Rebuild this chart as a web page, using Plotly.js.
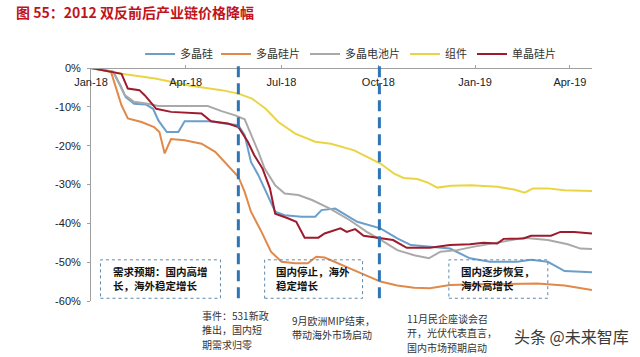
<!DOCTYPE html>
<html><head><meta charset="utf-8">
<script src="https://cdn.plot.ly/plotly-3.0.1.min.js"></script>
<style>html,body{margin:0;padding:0;background:#fff}#chart{width:640px;height:357px}</style>
</head><body><div id="chart"></div>
<script>
// ---- data (values in %) ----
const seriesNames = ['多晶硅', '多晶硅片', '多晶电池片', '组件', '单晶硅片'];
const seriesColors = ['#6b9fcb', '#e0894a', '#a9a9a9', '#e9d544', '#9e1b2e'];

const polySiDates = ['2018-01-01','2018-01-22','2018-01-29','2018-02-03','2018-02-11','2018-02-22','2018-03-01','2018-03-06','2018-03-14','2018-03-25','2018-03-31','2018-04-25','2018-05-08','2018-05-21','2018-05-27','2018-06-02','2018-06-09','2018-06-18','2018-06-25','2018-07-04','2018-07-20','2018-08-02','2018-08-08','2018-08-21','2018-08-29','2018-09-11','2018-10-03','2018-10-19','2018-11-01','2018-11-16','2018-12-08','2018-12-27','2019-01-15','2019-02-10','2019-02-23','2019-03-11','2019-03-27','2019-04-22'];
const polySiValues = [0,-1.0,-4.5,-7.5,-9.2,-9.4,-10.5,-13.5,-16.5,-16.5,-13.7,-13.7,-14.3,-14.7,-17.3,-24.2,-27.6,-32.7,-37.0,-37.9,-38.3,-38.3,-36.6,-36.2,-37.5,-39.6,-41.3,-43.9,-45.6,-46.0,-46.5,-49.0,-49.9,-49.9,-49.4,-49.9,-52.3,-52.6];

const polyWaferDates = ['2018-01-01','2018-01-20','2018-01-25','2018-01-30','2018-02-05','2018-02-18','2018-03-02','2018-03-07','2018-03-12','2018-03-18','2018-03-31','2018-04-16','2018-04-29','2018-05-11','2018-05-21','2018-05-27','2018-06-02','2018-06-12','2018-06-21','2018-07-01','2018-07-14','2018-07-26','2018-08-03','2018-08-11','2018-08-21','2018-09-04','2018-09-17','2018-10-03','2018-10-19','2018-11-04','2018-11-19','2018-12-08','2019-01-06','2019-02-07','2019-03-01','2019-03-27','2019-04-22'];
const polyWaferValues = [0,-1.0,-5.3,-9.6,-13.0,-13.9,-15.2,-16.5,-22.0,-18.3,-18.6,-19.5,-21.6,-25.0,-28.0,-31.9,-37.0,-42.2,-47.3,-49.9,-50.3,-50.3,-48.6,-48.8,-50.0,-51.6,-53.1,-55.0,-56.0,-56.6,-56.7,-55.9,-55.7,-55.5,-55.5,-56.0,-57.2];

const polyCellDates = ['2018-01-01','2018-01-22','2018-01-27','2018-02-02','2018-02-11','2018-02-24','2018-03-06','2018-04-22','2018-05-05','2018-05-18','2018-05-27','2018-06-02','2018-06-09','2018-06-15','2018-06-25','2018-07-04','2018-07-17','2018-07-30','2018-08-11','2018-08-16','2018-09-04','2018-09-20','2018-10-03','2018-10-19','2018-11-04','2018-11-18','2018-11-29','2018-12-15','2018-12-31','2019-01-15','2019-01-28','2019-02-16','2019-03-11','2019-03-30','2019-04-11','2019-04-22'];
const polyCellValues = [0,-0.9,-3.6,-7.0,-8.7,-9.2,-9.8,-9.8,-11.1,-12.2,-13.2,-16.9,-21.6,-25.9,-30.2,-32.3,-32.7,-34.0,-35.7,-36.2,-39.2,-42.2,-44.2,-46.9,-48.2,-49.0,-47.3,-46.9,-46.0,-45.2,-44.7,-43.7,-44.3,-45.4,-46.5,-46.6];

const moduleDates = ['2018-01-01','2018-01-30','2018-03-03','2018-04-04','2018-05-05','2018-05-21','2018-06-03','2018-06-16','2018-06-28','2018-07-14','2018-08-02','2018-08-17','2018-09-08','2018-09-21','2018-10-03','2018-10-16','2018-10-25','2018-11-07','2018-11-17','2018-11-26','2018-12-09','2018-12-28','2019-01-22','2019-02-07','2019-02-17','2019-02-25','2019-03-11','2019-03-27','2019-04-22'];
const moduleValues = [0,-1.5,-2.7,-4.5,-5.7,-6.6,-7.9,-10.5,-13.9,-16.9,-19.0,-19.5,-21.2,-22.9,-24.6,-27.2,-28.3,-28.6,-29.5,-30.8,-30.3,-30.2,-30.6,-31.3,-32.1,-31.0,-31.0,-31.5,-31.7];

const monoWaferDates = ['2018-01-01','2018-01-30','2018-02-05','2018-02-16','2018-02-21','2018-03-04','2018-03-18','2018-04-16','2018-04-25','2018-05-11','2018-05-21','2018-05-30','2018-06-05','2018-06-13','2018-06-20','2018-06-25','2018-07-07','2018-07-15','2018-07-23','2018-08-05','2018-08-11','2018-08-26','2018-09-01','2018-09-09','2018-09-17','2018-10-06','2018-10-15','2018-10-28','2018-11-19','2018-12-08','2018-12-27','2019-01-09','2019-01-22','2019-01-28','2019-02-16','2019-02-23','2019-03-14','2019-03-23','2019-04-05','2019-04-22'];
const monoWaferValues = [0,-1.5,-5.3,-5.7,-7.0,-10.5,-11.3,-11.7,-13.7,-14.3,-15.2,-19.0,-22.4,-25.9,-31.0,-37.5,-38.7,-39.6,-43.7,-43.7,-42.6,-41.3,-42.2,-41.5,-43.2,-43.9,-44.3,-46.3,-46.3,-45.6,-45.4,-45.0,-45.2,-44.0,-43.9,-43.2,-43.2,-42.2,-42.2,-42.6];

const tickDates = ['2018-01-01','2018-04-01','2018-07-01','2018-10-01','2019-01-01','2019-04-01'];
const tickLabels = ['Jan-18','Apr-18','Jul-18','Oct-18','Jan-19','Apr-19'];
const yTickValues = [0,-10,-20,-30,-40,-50,-60];
const yTickLabels = ['0%','-10%','-20%','-30%','-40%','-50%','-60%'];

const eventDates = ['2018-05-21','2018-10-02'];
const titleText = '图 55：2012 双反前后产业链价格降幅';
const phaseTexts = ['需求预期：国内高增<br>长，海外稳定增长', '国内停止，海外<br>稳定增长', '国内逐步恢复，<br>海外高增长'];
const eventLines = [
  ['事件：531新政', '推出，国内短', '期需求归零'],
  ['9月欧洲MIP结束，', '带动海外市场启动'],
  ['11月民企座谈会召', '开，光伏代表直言，', '国内市场预期启动']
];
const watermark = '头条 @未来智库';

// ---- traces ----
const xs = [polySiDates, polyWaferDates, polyCellDates, moduleDates, monoWaferDates];
const ys = [polySiValues, polyWaferValues, polyCellValues, moduleValues, monoWaferValues];
const traces = seriesNames.map((n, i) => ({
  type: 'scatter', mode: 'lines', name: n, x: xs[i], y: ys[i],
  legend: i === 0 ? 'legend2' : 'legend',
  line: {color: seriesColors[i], width: 2}
}));

const cjk = '"Noto Sans CJK SC", "Noto Sans", sans-serif';
const boxFont = {family: cjk, size: 10.5, color: '#111', weight: 700};

// pixel helpers for layout positions (plot area: x 91..592, y 68..301)
const px = v => (v - 91) / 501;
const py = v => (301 - v) / 233;

const shapes = [];
const annotations = [];
eventDates.forEach(d => shapes.push({type: 'line', xref: 'x', yref: 'paper', x0: d, x1: d, y0: 0.012, y1: 1.028,
  line: {color: '#2f75b5', width: 3, dash: '11px,6px'}}));
const boxes = [
  {x0: '2018-01-10', x1: '2018-05-04', tx: '2018-01-20'},
  {x0: '2018-06-15', x1: '2018-09-16', tx: '2018-06-24'},
  {x0: '2018-12-07', x1: '2019-03-11', tx: '2018-12-17'}
];
boxes.forEach((b, i) => {
  shapes.push({type: 'rect', xref: 'x', yref: 'y', x0: b.x0, x1: b.x1, y0: -59.3, y1: -49.4,
    line: {color: '#5f88aa', width: 1, dash: 'dot'}, fillcolor: 'rgba(0,0,0,0)'});
  annotations.push({xref: 'x', yref: 'y', x: b.tx, y: -54.3, xanchor: 'left', yanchor: 'middle',
    text: phaseTexts[i], showarrow: false, align: 'left', font: boxFont});
});
const noteStarts = [[200, 315], [290, 320], [405, 318]];
eventLines.forEach((lines, i) => lines.forEach((t, j) => annotations.push({xref: 'paper', yref: 'paper',
  x: px(noteStarts[i][0]), y: py(noteStarts[i][1] + j * 14.5), xanchor: 'left', yanchor: 'middle',
  text: t, showarrow: false, align: 'left', font: {family: cjk, size: 10, color: '#333'}})));
annotations.push({xref: 'paper', yref: 'paper', x: px(631), y: py(336), xanchor: 'right', yanchor: 'middle',
  text: watermark, showarrow: false, font: {family: cjk, size: 16, color: '#3a3a3a'}});

const legendFont = {family: cjk, size: 11, color: '#333'};
const layout = {
  width: 640, height: 357,
  margin: {l: 91, r: 48, t: 68, b: 56},
  paper_bgcolor: '#fff', plot_bgcolor: '#fff',
  title: {text: titleText, xref: 'container', yref: 'container', x: 16/640, xanchor: 'left', y: 1 - 13/357, yanchor: 'middle',
    font: {family: cjk, size: 14, color: '#c0141c', weight: 700}},
  showlegend: true,
  legend2: {orientation: 'h', x: 0.098, xanchor: 'left', y: 1.06, yanchor: 'middle', itemwidth: 30,
    font: legendFont, bgcolor: 'rgba(0,0,0,0)'},
  legend: {orientation: 'h', x: 0.2495, xanchor: 'left', y: 1.06, yanchor: 'middle', itemwidth: 30,
    font: legendFont, bgcolor: 'rgba(0,0,0,0)', tracegroupgap: 0},
  xaxis: {type: 'date', range: ['2018-01-01', '2019-04-22'], anchor: 'free', position: 1, side: 'bottom',
    tickvals: tickDates, ticktext: tickLabels, ticks: 'inside', ticklen: 3, tickcolor: '#a0a0a0',
    ticklabelstandoff: 4,
    showline: true, linecolor: '#a0a0a0', linewidth: 1, showgrid: false, zeroline: false,
    tickfont: {family: 'Liberation Sans, Arial, sans-serif', size: 11, color: '#222'}},
  yaxis: {range: [-60, 0], tickvals: yTickValues, ticktext: yTickLabels, ticks: 'outside', ticklen: 3, tickcolor: '#a0a0a0',
    ticklabelstandoff: 4,
    showline: true, linecolor: '#a0a0a0', linewidth: 1, showgrid: false, zeroline: false,
    tickfont: {family: 'Liberation Sans, Arial, sans-serif', size: 11, color: '#222'}},
  shapes: shapes, annotations: annotations
};
Plotly.newPlot('chart', traces, layout, {staticPlot: true, displayModeBar: false});
</script>
</body></html>
